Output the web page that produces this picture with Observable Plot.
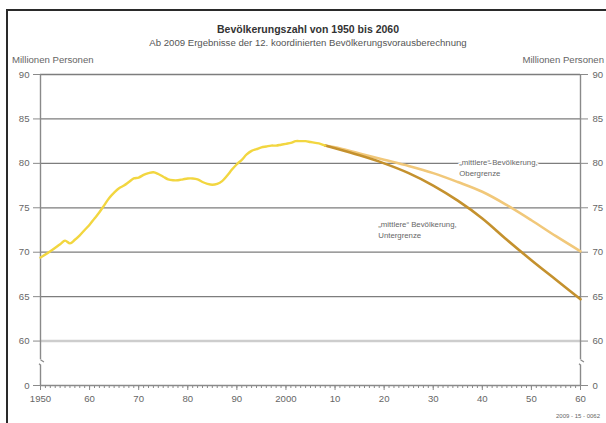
<!DOCTYPE html>
<html>
<head>
<meta charset="utf-8">
<script src="https://cdn.jsdelivr.net/npm/d3@7"></script>
<script src="https://cdn.jsdelivr.net/npm/@observablehq/plot@0.6"></script>
<style>
  html, body { margin: 0; padding: 0; background: #fff; overflow: hidden; }
  body { width: 606px; height: 423px; position: relative; font-family: "Liberation Sans", Arial, sans-serif; }
  #frame { position: absolute; left: 6px; top: 9px; width: 620px; height: 430px; border-left: 2px solid #2a2a2a; border-top: 2px solid #2a2a2a; pointer-events: none; z-index: 5; }
  #header { position: relative; height: 66px; }
  #title { position: absolute; top: 23px; left: 0; width: 616px; text-align: center; font-weight: bold; font-size: 10.5px; color: #333; }
  #subtitle { position: absolute; top: 37px; left: 0; width: 616px; text-align: center; font-size: 9.6px; color: #555; }
  #unitL { position: absolute; top: 54px; left: 12px; font-size: 9.6px; color: #666; }
  #unitR { position: absolute; top: 54px; right: 2px; font-size: 9.6px; color: #666; white-space: nowrap; }
  #footer { position: absolute; top: 413px; left: 556px; font-size: 6px; color: #666; white-space: nowrap; }
  svg { display: block; }
</style>
</head>
<body>
<div id="frame"></div>
<div id="header">
  <div id="title">Bevölkerungszahl von 1950 bis 2060</div>
  <div id="subtitle">Ab 2009 Ergebnisse der 12. koordinierten Bevölkerungsvorausberechnung</div>
  <div id="unitL">Millionen Personen</div>
  <div id="unitR">Millionen Personen</div>
</div>
<div id="chart"></div>
<div id="footer">2009 - 15 - 0062</div>
<script>
// Historical population (millions)
const histYears = [1950,1952,1954,1955,1956,1957,1958,1959,1960,1961,1962,1963,1964,1965,1966,1967,1968,1969,1970,1971,1972,1973,1974,1975,1976,1977,1978,1979,1980,1981,1982,1983,1984,1985,1986,1987,1988,1989,1990,1991,1992,1993,1994,1995,1996,1997,1998,1999,2000,2001,2002,2003,2004,2005,2006,2007,2008];
const histValues = [69.4,70.1,70.9,71.3,71.0,71.4,71.9,72.5,73.1,73.8,74.5,75.3,76.1,76.7,77.2,77.5,77.9,78.3,78.4,78.7,78.9,79.0,78.8,78.5,78.2,78.1,78.1,78.2,78.3,78.3,78.2,77.9,77.7,77.6,77.7,78.0,78.6,79.3,79.9,80.4,81.0,81.4,81.6,81.8,81.9,82.0,82.0,82.1,82.2,82.3,82.5,82.5,82.5,82.4,82.3,82.2,82.0];

// Projection years
const projYears = [2008,2010,2015,2020,2025,2030,2035,2040,2045,2050,2055,2060];
const upperValues = [82.0,81.8,81.1,80.4,79.7,78.9,77.9,76.8,75.3,73.6,71.8,70.1];
const lowerValues = [82.0,81.7,80.9,80.0,78.9,77.5,75.8,73.8,71.4,69.1,66.9,64.7];

// Axes
const yTickValues = [55,60,65,70,75,80,85,90];
const yTickLabels = ["0","60","65","70","75","80","85","90"];
const darkGrid = [65,70,75,80,85,90];
const lightGrid = [60];
const xTickValues = [1950,1960,1970,1980,1990,2000,2010,2020,2030,2040,2050,2060];
const xTickLabels = ["1950","60","70","80","90","2000","10","20","30","40","50","60"];
const axisYears = [1950,2060];
const axisBreak = [57.6];

// Annotations
const noteText = ["„mittlere“ Bevölkerung,\nObergrenze", "„mittlere“ Bevölkerung,\nUntergrenze"];
const noteYear = [2035.3, 2018.8];
const noteValue = [80.75, 73.75];

const hist = histYears.map((x,i) => ({x, y: histValues[i]}));
const upper = projYears.map((x,i) => ({x, y: upperValues[i]}));
const lower = projYears.map((x,i) => ({x, y: lowerValues[i]}));
const notes = noteText.map((t,i) => ({t, x: noteYear[i], y: noteValue[i]}));
const minorYears = d3.range(axisYears[0], axisYears[1] + 1);

const yFmt = d => yTickLabels[yTickValues.indexOf(d)];
const xFmt = d => xTickLabels[xTickValues.indexOf(d)];
const gap = 0.3;

const chart = Plot.plot({
  width: 606,
  height: 357,
  marginLeft: 40,
  marginRight: 26,
  marginTop: 8,
  marginBottom: 38,
  style: {fontFamily: "'Liberation Sans', Arial, sans-serif", fontSize: "9.6px", color: "#666", background: "#fff"},
  x: {domain: [1950, 2060]},
  y: {domain: [55, 90]},
  marks: [
    Plot.ruleY(darkGrid, {stroke: "#7d7d7d", strokeWidth: 1.3}),
    Plot.ruleY(lightGrid, {stroke: "#cdcdcd", strokeWidth: 2.6}),
    Plot.ruleY([yTickValues[0]], {stroke: "#8a8a8a", strokeWidth: 1.3}),
    Plot.ruleX(axisYears, {y1: axisBreak[0] + gap, y2: 90, stroke: "#8a8a8a", strokeWidth: 1.4}),
    Plot.ruleX(axisYears, {y1: 55, y2: axisBreak[0] - gap, stroke: "#8a8a8a", strokeWidth: 1.4}),
    Plot.link(axisYears, {x1: d => d, x2: d => d + 0.7, y1: axisBreak[0] + gap, y2: axisBreak[0] + gap - 0.25, stroke: "#8a8a8a", strokeWidth: 1.2}),
    Plot.link(axisYears, {x1: d => d, x2: d => d - 0.3, y1: axisBreak[0] - gap, y2: axisBreak[0] - gap + 0.15, stroke: "#8a8a8a", strokeWidth: 1.2}),
    Plot.axisY({anchor: "left", ticks: yTickValues, tickFormat: yFmt, tickSize: 7, tickPadding: 4, stroke: "#8a8a8a", label: null}),
    Plot.axisY({anchor: "right", ticks: yTickValues, tickFormat: yFmt, tickSize: 7, tickPadding: 5, stroke: "#8a8a8a", label: null}),
    Plot.axisX({ticks: minorYears, tickSize: 3, tickFormat: () => "", stroke: "#8a8a8a", label: null}),
    Plot.axisX({ticks: xTickValues, tickFormat: xFmt, tickSize: 5, tickPadding: 5, stroke: "#8a8a8a", label: null}),
    Plot.line(upper, {x: "x", y: "y", stroke: "#f1c87a", strokeWidth: 2.6, curve: "catmull-rom"}),
    Plot.line(lower, {x: "x", y: "y", stroke: "#c4912e", strokeWidth: 2.6, curve: "catmull-rom"}),
    Plot.line(hist, {x: "x", y: "y", stroke: "#f2d640", strokeWidth: 2.4, curve: "catmull-rom"}),
    Plot.text(notes, {x: "x", y: "y", text: "t", textAnchor: "start", lineAnchor: "top", lineHeight: 1.45, fontSize: 7.8, fill: "#666", stroke: "#fff", strokeWidth: 3})
  ]
});
document.getElementById("chart").appendChild(chart);
</script>
</body>
</html>
